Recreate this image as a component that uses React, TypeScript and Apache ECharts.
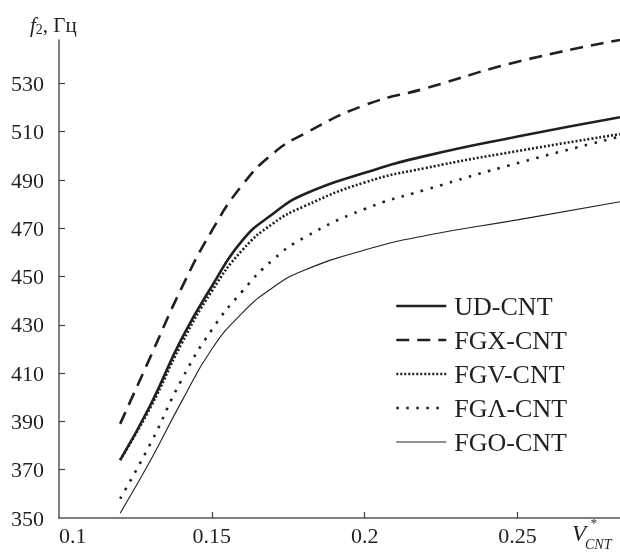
import React, { useEffect, useRef } from "react";
import * as echarts from "echarts";

const xValues = [0.12, 0.13, 0.14, 0.15, 0.16, 0.17, 0.18, 0.2, 0.22, 0.25, 0.2835];
const udValues = [374, 397, 424, 446, 465, 476, 484, 493, 500, 508, 516];
const fgxValues = [389, 417, 445, 469, 488, 501, 509, 521, 528, 539, 548];
const fgvValues = [374, 396, 422, 444, 461, 472, 479, 489, 495, 502, 509];
const fglValues = [358, 381, 407, 428, 444, 457, 466, 478, 486, 497, 508];
const fgoValues = [352, 374, 398, 420, 435, 445.5, 452.5, 461, 467, 473.5, 481];
const seriesNames = ["UD-CNT", "FGX-CNT", "FGV-CNT", "FGΛ-CNT", "FGO-CNT"];
const yTicks = [350, 370, 390, 410, 430, 450, 470, 490, 510, 530];
const xTicks = [0.1, 0.15, 0.2, 0.25];

const INK = "#231f20";
const FONT = "Liberation Serif";

export default function App() {
  const ref = useRef<HTMLDivElement>(null);
  useEffect(() => {
    if (!ref.current) return;
    const chart = echarts.init(ref.current, null, { renderer: "svg" });
    const pts = (vals: number[]) => xValues.map((x, i) => [x, vals[i]]);
    const styles = [
      { width: 2.6, type: "solid" },
      { width: 2.6, type: [13, 8] },
      { width: 2.6, type: [2, 2] },
      { width: 2.6, type: [2.5, 7.5] },
      { width: 1.1, type: "solid" },
    ];
    const allVals = [udValues, fgxValues, fgvValues, fglValues, fgoValues];
    chart.setOption({
      animation: false,
      grid: { left: 59, right: 0, top: 40, bottom: 36 },
      xAxis: {
        type: "value",
        min: 0.1,
        max: 0.2835,
        interval: 0.05,
        splitLine: { show: false },
        axisLine: { lineStyle: { color: "#555", width: 1.5 } },
        axisTick: {
          inside: true,
          length: 6,
          lineStyle: { color: "#444", width: 1.2 },
          customValues: xTicks.slice(1),
        },
        axisLabel: {
          color: INK,
          fontFamily: FONT,
          fontSize: 22,
          margin: 6,
          alignMinLabel: "left",
          customValues: xTicks,
          formatter: (v: number) => String(Number(v.toFixed(2))),
        },
      },
      yAxis: {
        type: "value",
        min: 350,
        max: 548,
        interval: 20,
        splitLine: { show: false },
        axisLine: { show: true, lineStyle: { color: "#555", width: 1.5 } },
        axisTick: {
          show: true,
          inside: true,
          length: 6,
          lineStyle: { color: "#444", width: 1.2 },
          customValues: yTicks.slice(1),
        },
        axisLabel: {
          color: INK,
          fontFamily: FONT,
          fontSize: 22,
          margin: 15,
          customValues: yTicks,
        },
      },
      legend: {
        orient: "vertical",
        left: 390,
        top: 288,
        itemWidth: 50,
        itemHeight: 14,
        itemGap: 8,
        itemStyle: { opacity: 0 },
        lineStyle: { width: "inherit", type: "inherit" },
        textStyle: {
          color: INK,
          fontFamily: FONT,
          fontSize: 26,
          lineHeight: 26,
          padding: [0, 0, 0, 3],
        },
        data: seriesNames,
      },
      series: seriesNames.map((name, i) => ({
        name,
        type: "line",
        smooth: 0.5,
        symbol: "none",
        showSymbol: false,
        data: pts(allVals[i]),
        lineStyle: { color: INK, width: styles[i].width, type: styles[i].type },
        itemStyle: { color: INK },
      })),
      graphic: [
        {
          type: "text",
          left: 30,
          top: 14,
          style: {
            text: "{i|f}{s|2}{n|, Гц}",
            rich: {
              i: { fontFamily: FONT, fontStyle: "italic", fontSize: 21, fill: INK },
              s: { fontFamily: FONT, fontSize: 14, fill: INK, padding: [10, 0, 0, 0] },
              n: { fontFamily: FONT, fontSize: 21, fill: INK },
            },
          },
        },
        {
          type: "text",
          left: 572,
          top: 522,
          style: { text: "V", fontFamily: FONT, fontStyle: "italic", fontSize: 23, fill: INK },
        },
        {
          type: "text",
          left: 590,
          top: 516,
          style: { text: "*", fontFamily: FONT, fontStyle: "italic", fontSize: 13, fill: INK },
        },
        {
          type: "text",
          left: 585,
          top: 537,
          style: { text: "CNT", fontFamily: FONT, fontStyle: "italic", fontSize: 14, fill: INK },
        },
      ],
    });
    return () => chart.dispose();
  }, []);
  return (
    <div
      ref={ref}
      style={{ position: "fixed", left: 0, top: 0, width: 620, height: 554 }}
    />
  );
}
